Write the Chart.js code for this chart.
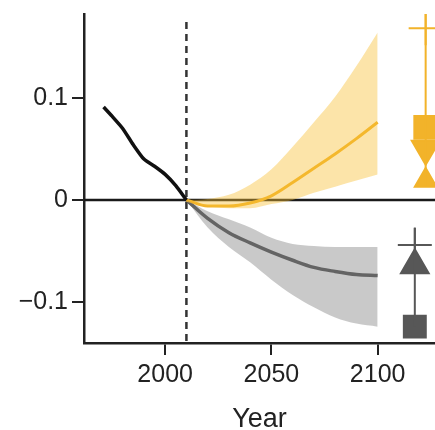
<!DOCTYPE html>
<html>
<head>
<meta charset="utf-8">
<script src="https://cdn.jsdelivr.net/npm/chart.js@4"></script>
<style>
  body { margin: 0; background: #fff; }
  #wrap { width: 435px; height: 430px; }
</style>
</head>
<body>
<div id="wrap"><canvas id="canvas-1"></canvas></div>
<script>
// observed record
var histYears  = [1971, 1975, 1980, 1985, 1990, 1995, 2000, 2005, 2010];
var histValues = [0.091, 0.082, 0.070, 0.054, 0.040, 0.033, 0.025, 0.014, 0.000];

// projections
var projYears   = [2010, 2020, 2030, 2040, 2050, 2060, 2070, 2080, 2090, 2100];
var yellowMean  = [0, -0.006, -0.006, -0.003, 0.004, 0.017, 0.031, 0.045, 0.060, 0.076];
var yellowUpper = [0, 0.001, 0.005, 0.015, 0.030, 0.052, 0.076, 0.101, 0.131, 0.164];
var yellowLower = [0, -0.006, -0.008, -0.008, -0.004, 0.000, 0.007, 0.013, 0.019, 0.025];
var grayMean    = [0, -0.018, -0.032, -0.042, -0.051, -0.059, -0.066, -0.070, -0.073, -0.074];
var grayUpper   = [0, -0.011, -0.019, -0.027, -0.037, -0.043, -0.045, -0.046, -0.046, -0.046];
var grayLower   = [0, -0.027, -0.046, -0.061, -0.078, -0.093, -0.105, -0.115, -0.121, -0.124];

// model symbols at the right edge
var yellowMarkYear   = 2122.6;
var yellowMarkRange  = [0.183, 0.013];
var yellowMarkValues = [0.168, 0.071, 0.050, 0.019];
var grayMarkYear     = 2117.5;
var grayMarkRange    = [-0.027, -0.124];
var grayMarkValues   = [-0.044, -0.064, -0.124];

var xTicks = [2000, 2050, 2100];
var yTicks = [-0.1, 0, 0.1];
var baseYear = 2010;

var YELLOW = '#f2b32a';
var GRAY = '#575757';

function pts(xs, ys) {
    var out = [];
    for (var i = 0; i < xs.length; i++) out.push({x: xs[i], y: ys[i]});
    return out;
}
function col(year, ys) {
    return ys.map(function (v) { return {x: year, y: v}; });
}

var refLines = {
    id: 'refLines',
    beforeDatasetsDraw: function (chart) {
        var ctx = chart.ctx, area = chart.chartArea;
        var x = chart.scales.x, y = chart.scales.y;
        ctx.save();
        var y0 = y.getPixelForValue(0);
        ctx.strokeStyle = '#1a1a1a';
        ctx.lineWidth = 2.5;
        ctx.beginPath();
        ctx.moveTo(area.left, y0);
        ctx.lineTo(area.right, y0);
        ctx.stroke();
        var xb = x.getPixelForValue(baseYear);
        ctx.strokeStyle = '#333';
        ctx.setLineDash([7, 5]);
        ctx.beginPath();
        ctx.moveTo(xb, area.top + 8);
        ctx.lineTo(xb, area.bottom);
        ctx.stroke();
        ctx.restore();
    }
};

var band = {borderWidth: 0, pointRadius: 0, tension: 0.4, cubicInterpolationMode: 'monotone'};

var ctx = document.getElementById('canvas-1');
var chart = new Chart(ctx, {
    type: 'line',
    data: {
        datasets: [
            Object.assign({data: pts(projYears, yellowUpper), fill: '+1', backgroundColor: 'rgba(247,190,50,0.42)'}, band),
            Object.assign({data: pts(projYears, yellowLower), fill: false}, band),
            Object.assign({data: pts(projYears, grayUpper), fill: '+1', backgroundColor: 'rgba(120,120,120,0.4)'}, band),
            Object.assign({data: pts(projYears, grayLower), fill: false}, band),
            {data: pts(histYears, histValues), borderColor: '#111', borderWidth: 3.5, pointRadius: 0, tension: 0.2},
            {data: pts(projYears, yellowMean), borderColor: YELLOW, borderWidth: 3, pointRadius: 0, cubicInterpolationMode: 'monotone'},
            {data: pts(projYears, grayMean), borderColor: GRAY, borderWidth: 3.5, pointRadius: 0, cubicInterpolationMode: 'monotone'},
            {data: col(yellowMarkYear, yellowMarkRange), borderColor: YELLOW, borderWidth: 2, pointRadius: 0},
            {data: col(grayMarkYear, grayMarkRange), borderColor: GRAY, borderWidth: 2, pointRadius: 0},
            {data: col(yellowMarkYear, yellowMarkValues), showLine: false, pointStyle: ['cross', 'rect', 'triangle', 'triangle'],
             pointRadius: [17, 16, 16, 12.5], pointRotation: [0, 0, 180, 0],
             pointBackgroundColor: YELLOW, pointBorderColor: YELLOW, pointBorderWidth: 2},
            {data: col(grayMarkYear, grayMarkValues), showLine: false, pointStyle: ['cross', 'triangle', 'rect'],
             pointRadius: [17, 16, 15.5], pointBackgroundColor: GRAY, pointBorderColor: GRAY, pointBorderWidth: 2}
        ]
    },
    options: {
        responsive: true,
        maintainAspectRatio: false,
        animation: false,
        layout: {autoPadding: false, padding: {top: 14, right: 0, left: 0, bottom: 0}},
        plugins: {legend: {display: false}, tooltip: {enabled: false}},
        elements: {line: {fill: false}},
        scales: {
            x: {
                type: 'linear', min: 1961.8, max: 2127,
                afterBuildTicks: function (s) { s.ticks = xTicks.map(function (v) { return {value: v}; }); },
                afterFit: function (s) { s.height = 87; },
                grid: {drawOnChartArea: false, tickLength: 12, color: '#222', lineWidth: 2},
                border: {color: '#222', width: 2.5},
                ticks: {
                    color: '#222', padding: 5, maxRotation: 0,
                    font: {family: 'Liberation Sans, Arial, sans-serif', size: 25},
                    callback: function (v) { return String(v); }
                },
                title: {display: true, text: 'Year', color: '#222', padding: {top: 0, bottom: 0},
                        font: {family: 'Liberation Sans, Arial, sans-serif', size: 27, lineHeight: 0.8}}
            },
            y: {
                type: 'linear', min: -0.140, max: 0.182,
                afterBuildTicks: function (s) { s.ticks = yTicks.map(function (v) { return {value: v}; }); },
                afterFit: function (s) { s.width = 84; s.paddingTop = 0; },
                grid: {drawOnChartArea: false, tickLength: 12, color: '#222', lineWidth: 2},
                border: {color: '#222', width: 2.5},
                ticks: {
                    color: '#222', padding: 4,
                    font: {family: 'Liberation Sans, Arial, sans-serif', size: 25, lineHeight: 0.8},
                    callback: function (v) {
                        if (v === 0) return '0';
                        return (v < 0 ? '\u2212' : '') + Math.abs(v);
                    }
                }
            }
        }
    },
    plugins: [refLines]
});
</script>
</body>
</html>
